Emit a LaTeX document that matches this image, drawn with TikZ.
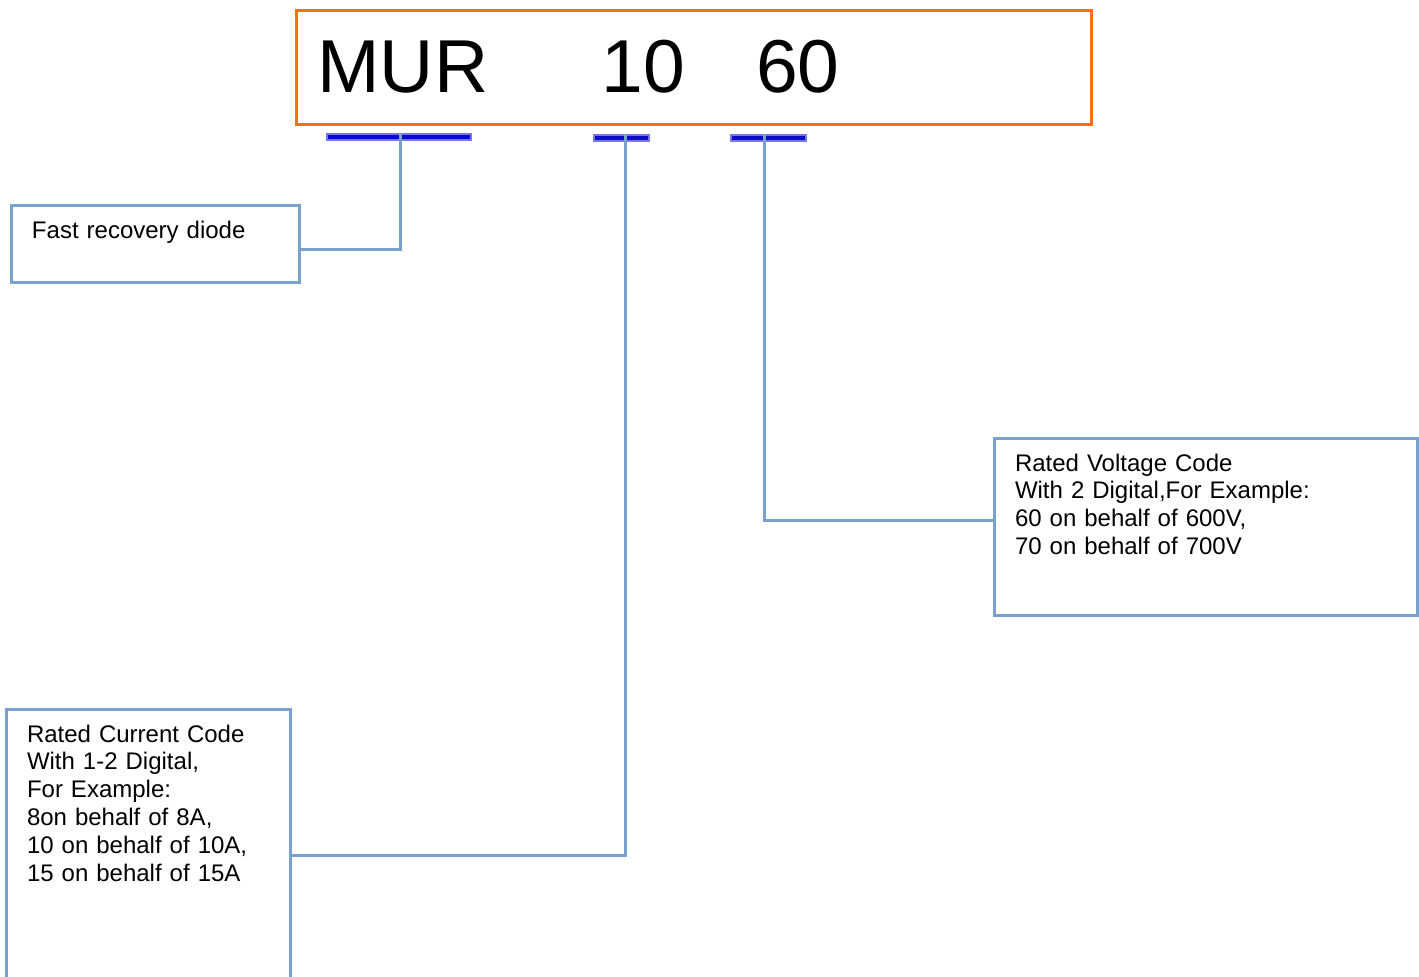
\documentclass[tikz,border=0pt]{standalone}
\usepackage{fontspec}
\setmainfont{Liberation Sans}
\usepackage{tikz}

\definecolor{frameorange}{RGB}{250,110,20}
\definecolor{barblue}{RGB}{10,10,200}
\definecolor{linkblue}{RGB}{122,160,204}

\tikzset{
  codeframe/.style={draw=frameorange, line width=1.5pt, anchor=north west,
    outer sep=0pt, inner xsep=10.75pt, inner ysep=0pt, align=left,
    text width=376pt, text height=41pt, text depth=16pt,
    font=\fontsize{37.5}{40}\selectfont},
  codebar/.style={fill=barblue, draw=barblue!55, line width=0.8pt,
    minimum height=3pt, inner sep=0pt},
  codebox/.style={draw=linkblue, line width=1.5pt, anchor=north west,
    outer sep=0pt, inner xsep=10.5pt, inner ysep=0pt, align=left,
    text height=16.5pt, font=\fontsize{12}{13.9}\selectfont},
  link/.style={draw=linkblue, line width=1.5pt}
}

\begin{document}
\begin{tikzpicture}[x=0.5pt, y=-0.5pt]
\useasboundingbox (0,0) rectangle (1419,976);
\clip (0,0) rectangle (1419,976);

% Part number
\node[codeframe] (code) at (296,10) {MUR\hspace{56.75pt}10\hspace{35.5pt}60};

% Markers under the code
\node[codebar, minimum width=72pt] (barMUR) at (399,137) {};
\node[codebar, minimum width=27.5pt] (barCur) at (621.5,138) {};
\node[codebar, minimum width=37.5pt] (barVolt) at (768.5,138) {};

% Explanations
\node[codebox, text width=123pt, text depth=22pt] (fast) at (11,205)
  {Fast recovery diode};
\node[codebox, text width=190.5pt, text depth=72pt] (volt) at (994,438)
  {Rated Voltage Code\\With 2 Digital,For Example:\\60 on behalf of 600V,\\70 on behalf of 700V};
\node[codebox, text width=121pt, text depth=129.5pt] (cur) at (6,709)
  {Rated Current Code\\With 1-2 Digital,\\For Example:\\8on behalf of 8A,\\10 on behalf of 10A,\\15 on behalf of 15A};

% Leader lines
\draw[link] ([xshift=0.5pt]barMUR.north) |- ([yshift=-2.75pt]fast.east);
\draw[link] ([xshift=1.75pt]barCur.north) |- (cur.east);
\draw[link] ([xshift=-2.25pt]barVolt.north) |- ([yshift=3.25pt]volt.west);

\end{tikzpicture}
\end{document}
